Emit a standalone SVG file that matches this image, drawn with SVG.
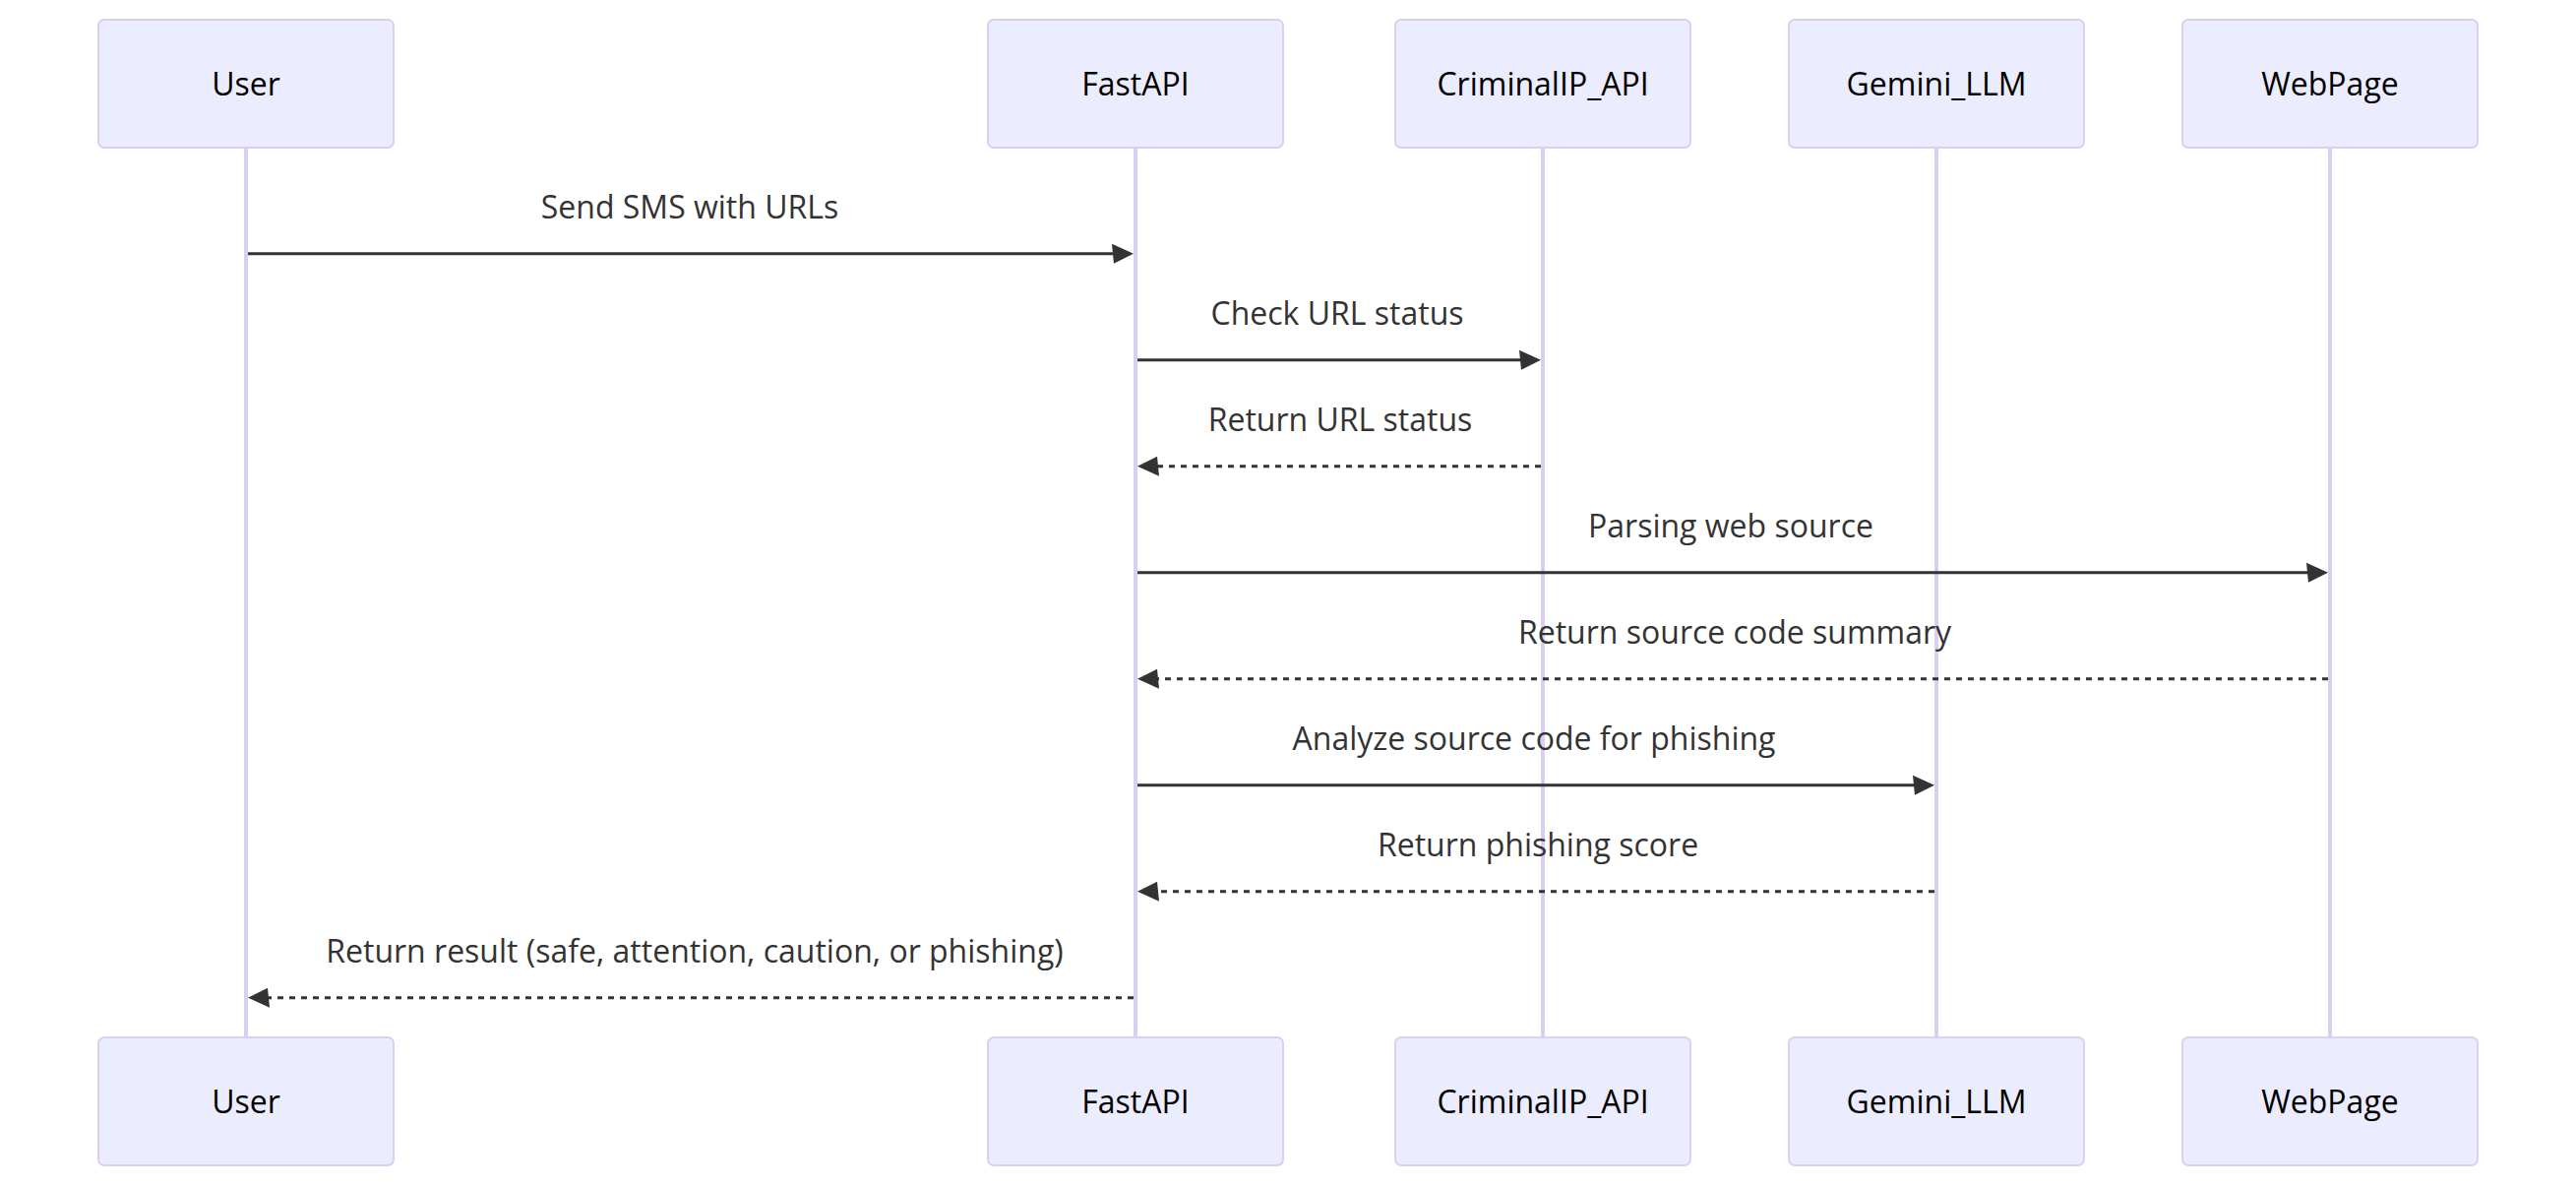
<svg xmlns="http://www.w3.org/2000/svg" width="2618" height="1206" viewBox="0 0 2618 1206">
<style>
.actor{fill:#ECECFF;stroke:#DACEF3;stroke-width:2}
.actor-text{font-family:"Open Sans","Noto Sans","Liberation Sans",sans-serif;font-size:32px;fill:#000;text-anchor:middle}
.lifeline{stroke:#DACEF3;stroke-width:4}
.msg{stroke:#333;stroke-width:3;fill:none}
.dashed{stroke-dasharray:6,6}
.msg-text{font-family:"Open Sans","Noto Sans","Liberation Sans",sans-serif;font-size:32px;fill:#333;text-anchor:middle}
</style>
<defs>
<marker id="arrowhead" markerUnits="userSpaceOnUse" markerWidth="24" markerHeight="24" refX="15.8" refY="10" orient="auto" overflow="visible">
<path d="M -2 0 L 20 10 L 0 20 z" fill="#333"/>
</marker>
</defs>
<rect width="2618" height="1206" fill="#fff"/>
<g id="lifelines">
<line class="lifeline" x1="250" y1="150" x2="250" y2="1054"/>
<line class="lifeline" x1="1154" y1="150" x2="1154" y2="1054"/>
<line class="lifeline" x1="1568" y1="150" x2="1568" y2="1054"/>
<line class="lifeline" x1="1968" y1="150" x2="1968" y2="1054"/>
<line class="lifeline" x1="2368" y1="150" x2="2368" y2="1054"/>
</g>
<g id="User">
<rect class="actor" x="100" y="20" width="300" height="130" rx="6"/>
<text class="actor-text" x="250" y="96.5">User</text>
<rect class="actor" x="100" y="1054" width="300" height="130" rx="6"/>
<text class="actor-text" x="250" y="1130.5">User</text>
</g>
<g id="FastAPI">
<rect class="actor" x="1004" y="20" width="300" height="130" rx="6"/>
<text class="actor-text" x="1154" y="96.5">FastAPI</text>
<rect class="actor" x="1004" y="1054" width="300" height="130" rx="6"/>
<text class="actor-text" x="1154" y="1130.5">FastAPI</text>
</g>
<g id="CriminalIP_API">
<rect class="actor" x="1418" y="20" width="300" height="130" rx="6"/>
<text class="actor-text" x="1568" y="96.5">CriminalIP_API</text>
<rect class="actor" x="1418" y="1054" width="300" height="130" rx="6"/>
<text class="actor-text" x="1568" y="1130.5">CriminalIP_API</text>
</g>
<g id="Gemini_LLM">
<rect class="actor" x="1818" y="20" width="300" height="130" rx="6"/>
<text class="actor-text" x="1968" y="96.5">Gemini_LLM</text>
<rect class="actor" x="1818" y="1054" width="300" height="130" rx="6"/>
<text class="actor-text" x="1968" y="1130.5">Gemini_LLM</text>
</g>
<g id="WebPage">
<rect class="actor" x="2218" y="20" width="300" height="130" rx="6"/>
<text class="actor-text" x="2368" y="96.5">WebPage</text>
<rect class="actor" x="2218" y="1054" width="300" height="130" rx="6"/>
<text class="actor-text" x="2368" y="1130.5">WebPage</text>
</g>
<g id="connectors">
<text class="msg-text" x="701" y="221.5">Send SMS with URLs</text>
<line class="msg" x1="252" y1="257.7" x2="1147.8" y2="257.7" marker-end="url(#arrowhead)"/>
<text class="msg-text" x="1359" y="329.5">Check URL status</text>
<line class="msg" x1="1156" y1="365.7" x2="1561.8" y2="365.7" marker-end="url(#arrowhead)"/>
<text class="msg-text" x="1362" y="437.5">Return URL status</text>
<line class="msg dashed" x1="1566" y1="473.7" x2="1160.2" y2="473.7" marker-end="url(#arrowhead)"/>
<text class="msg-text" x="1759" y="545.5">Parsing web source</text>
<line class="msg" x1="1156" y1="581.7" x2="2361.8" y2="581.7" marker-end="url(#arrowhead)"/>
<text class="msg-text" x="1763" y="653.5">Return source code summary</text>
<line class="msg dashed" x1="2366" y1="689.7" x2="1160.2" y2="689.7" marker-end="url(#arrowhead)"/>
<text class="msg-text" x="1559" y="761.5">Analyze source code for phishing</text>
<line class="msg" x1="1156" y1="797.7" x2="1961.8" y2="797.7" marker-end="url(#arrowhead)"/>
<text class="msg-text" x="1563" y="869.5">Return phishing score</text>
<line class="msg dashed" x1="1966" y1="905.7" x2="1160.2" y2="905.7" marker-end="url(#arrowhead)"/>
<text class="msg-text" x="706" y="977.5">Return result (safe, attention, caution, or phishing)</text>
<line class="msg dashed" x1="1152" y1="1013.7" x2="256.2" y2="1013.7" marker-end="url(#arrowhead)"/>
</g>
</svg>
